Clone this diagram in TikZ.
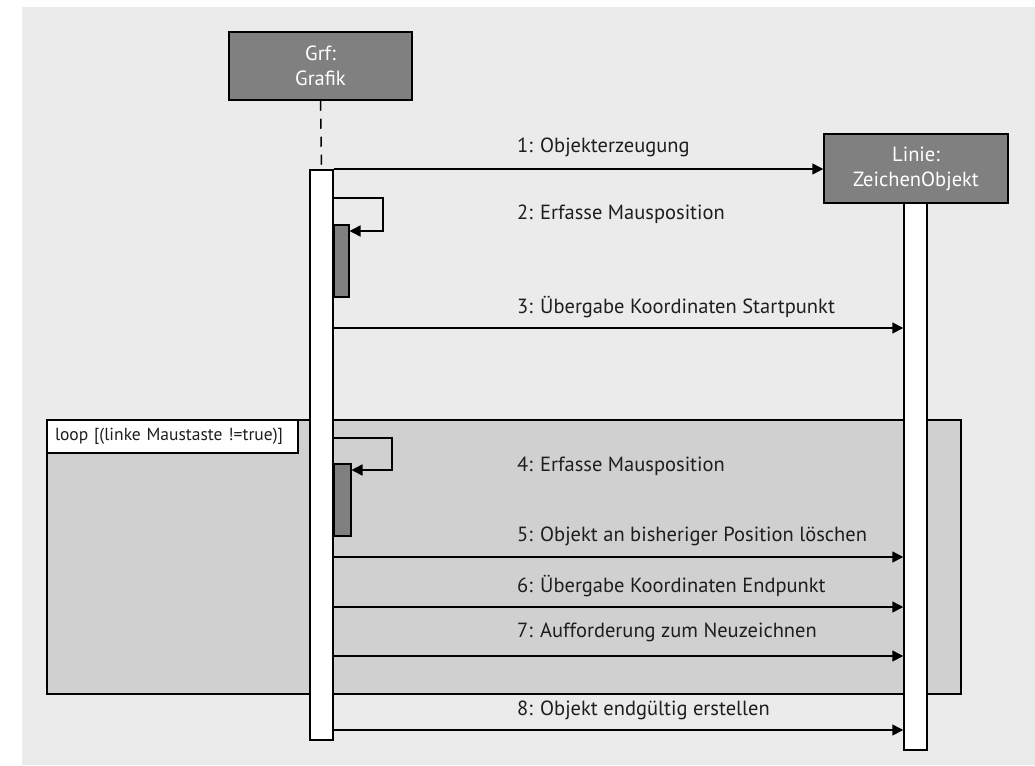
\documentclass[tikz,border=0pt]{standalone}
\usepackage{fontspec}
\setmainfont{PT Sans}
\usetikzlibrary{positioning,arrows.meta}
\definecolor{bggray}{HTML}{EBEBEB}
\definecolor{loopgray}{HTML}{D0D0D0}
\definecolor{boxgray}{HTML}{808080}
\definecolor{txtgray}{HTML}{1E1E1E}
\tikzset{>={Triangle[length=11pt,width=11pt]}}
\tikzset{
  object/.style={draw, line width=1.5pt, fill=boxgray, text=white, align=center,
    minimum width=183pt, minimum height=68pt, inner sep=0pt,
    font=\fontsize{20.5}{25}\selectfont},
  bar/.style={draw, line width=1.5pt, fill=white, minimum width=23pt, inner sep=0pt},
  subbar/.style={draw, line width=1.5pt, fill=boxgray, inner sep=0pt},
  msg/.style={->, line width=1.5pt},
  msglabel/.style={anchor=base west, inner sep=0pt, text=txtgray,
    font=\fontsize{20.5}{24}\selectfont},
}
\begin{document}
\begin{tikzpicture}[x=1pt, y=-1pt]
    \useasboundingbox (0,0) rectangle (1035,765);
    \fill[bggray] (22,7) rectangle (1035,765);
    % loop frame
    \node[draw, line width=1.5pt, fill=loopgray, minimum width=914pt, minimum height=274pt,
          inner sep=0pt] (loopframe) at (504,557) {};
    \node[draw, line width=1.5pt, fill=white, anchor=north west, minimum width=251pt,
          minimum height=33pt, inner ysep=0pt, inner xsep=8pt, text width=235pt, align=left,
          text=txtgray, font=\fontsize{17.5}{20}\selectfont] (looplabel) at (loopframe.north west)
          {loop [(linke Maustaste !=true)]};
    % objects
    \node[object] (grf) at (320.5,66) {Grf:\\Grafik};
    \node[object, minimum width=184pt, minimum height=69pt] (linie) at (916,168.5) {Linie:\\ZeichenObjekt};
    \node[bar, minimum height=570pt] (grfbar) at (321.5,455) {};
    \node[bar, minimum height=547pt] (liniebar) at (915.5,476.5) {};
    \draw[line width=1.5pt, dash pattern=on 10pt off 8pt] (grf.south) -- (grfbar.north);
    % self calls
    \node[subbar, minimum width=15pt, minimum height=72pt, anchor=north west] (act1) at (333,224) {};
    \node[subbar, minimum width=17pt, minimum height=72pt, anchor=north west] (act2) at (333,463) {};
    \draw[msg] (grfbar.east |- 0,198) -| (383,231) -- (act1.east |- 0,231);
    \draw[msg] (grfbar.east |- 0,438) -| (392,470) -- (act2.east |- 0,470);
    % messages
    \draw[msg] (grfbar.east |- 0,169) -- (linie.west |- 0,169);
    \draw[msg] (grfbar.east |- 0,328) -- (liniebar.west |- 0,328);
    \draw[msg] (grfbar.east |- 0,557) -- (liniebar.west |- 0,557);
    \draw[msg] (grfbar.east |- 0,607) -- (liniebar.west |- 0,607);
    \draw[msg] (grfbar.east |- 0,656) -- (liniebar.west |- 0,656);
    \draw[msg] (grfbar.east |- 0,730) -- (liniebar.west |- 0,730);
    \node[msglabel] (m1) at (517,152) {1: Objekterzeugung};
    \node[msglabel] (m2) at (517,219) {2: Erfasse Mausposition};
    \node[msglabel] (m3) at (517,313) {3: Übergabe Koordinaten Startpunkt};
    \node[msglabel] (m4) at (517,471) {4: Erfasse Mausposition};
    \node[msglabel] (m5) at (517,541) {5: Objekt an bisheriger Position löschen};
    \node[msglabel] (m6) at (517,592) {6: Übergabe Koordinaten Endpunkt};
    \node[msglabel] (m7) at (517,637) {7: Aufforderung zum Neuzeichnen};
    \node[msglabel] (m8) at (517,715) {8: Objekt endgültig erstellen};
\end{tikzpicture}
\end{document}
